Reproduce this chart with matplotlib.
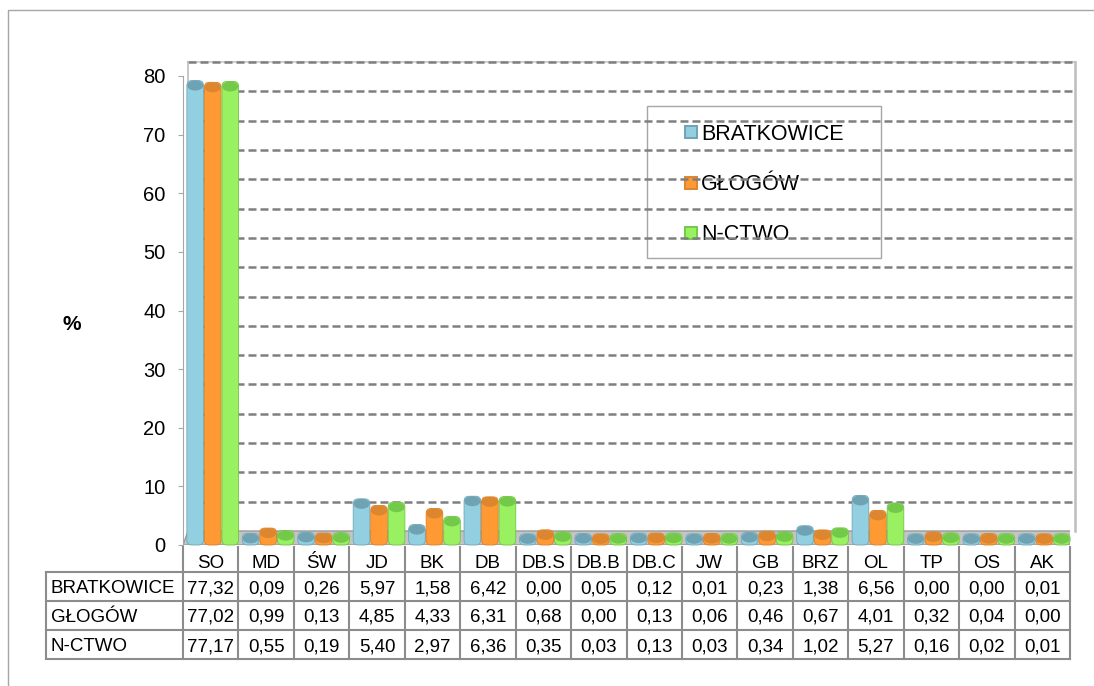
import numpy as np
import matplotlib
matplotlib.use("Agg")
import matplotlib.pyplot as plt
from matplotlib.patches import Rectangle, Ellipse, Polygon, FancyBboxPatch
from matplotlib.lines import Line2D
from matplotlib.transforms import ScaledTranslation, IdentityTransform, blended_transform_factory

plt.rcParams["font.family"] = ["Liberation Sans", "DejaVu Sans"]

# ── data ──────────────────────────────────────────────────────────────────────
categories = ["SO", "MD", "ŚW", "JD", "BK", "DB", "DB.S", "DB.B", "DB.C",
              "JW", "GB", "BRZ", "OL", "TP", "OS", "AK"]
bratkowice = [77.32, 0.09, 0.26, 5.97, 1.58, 6.42, 0.00, 0.05, 0.12,
              0.01, 0.23, 1.38, 6.56, 0.00, 0.00, 0.01]
glogow     = [77.02, 0.99, 0.13, 4.85, 4.33, 6.31, 0.68, 0.00, 0.13,
              0.06, 0.46, 0.67, 4.01, 0.32, 0.04, 0.00]
nctwo      = [77.17, 0.55, 0.19, 5.40, 2.97, 6.36, 0.35, 0.03, 0.13,
              0.03, 0.34, 1.02, 5.27, 0.16, 0.02, 0.01]
series_names = ["BRATKOWICE", "GŁOGÓW", "N-CTWO"]
y_ticks = [0, 10, 20, 30, 40, 50, 60, 70, 80]
grid_values = list(range(5, 85, 5))

# ── style ─────────────────────────────────────────────────────────────────────
body_col = ["#92CFE0", "#FF9933", "#99F060"]
cap_col  = ["#6FA3B3", "#DC862F", "#73C94A"]
edge_col = ["#73A6B5", "#D9822B", "#72C24A"]
LINE = "#8C8C8C"
LIFT = 1.9                      # 3D lift of the bar tops (data units)
W, STEP, SHIFT = 0.30, 0.316, 0.036

W_PX, H_PX = 1094, 686
fig = plt.figure(figsize=(W_PX / 100, H_PX / 100), dpi=100)

# background layer in pixel coords (frame, table, legend)
bg = fig.add_axes([0, 0, 1, 1])
bg.set_xlim(0, W_PX)
bg.set_ylim(H_PX, 0)
bg.axis("off")
bg.plot([8, 8, W_PX], [H_PX, 10, 10], color="#A6A6A6", lw=1)

# main plot axes
x0, x1, y0, y80 = 183, 1070, 545, 76
ax = fig.add_axes([x0 / W_PX, 1 - y0 / H_PX, (x1 - x0) / W_PX, (y0 - y80) / H_PX])
ax.patch.set_alpha(0)
ax.set_xlim(-0.5, len(categories) - 0.5)
ax.set_ylim(0, 80)
for s in ["top", "right", "bottom"]:
    ax.spines[s].set_visible(False)
ax.spines["left"].set_color("#A6A6A6")
ax.set_xticks([])
ax.set_yticks(y_ticks)
ax.tick_params(axis="y", length=3.6, width=0.8, color="#A6A6A6", pad=9, labelsize=14.5)

px_x = (x1 - x0) / len(categories)   # pixels per x unit
px_y = (y0 - y80) / 80               # pixels per y unit

# back wall = data shifted right/up
back = ax.transData + ScaledTranslation(0.05, 0.14, fig.dpi_scale_trans)
xl, xr = -0.5, len(categories) - 0.5
ax.plot([xl, xr], [80, 80], transform=back, color="#D0D0D0", lw=1.5, zorder=0.9, clip_on=False)
for g in grid_values:
    ax.plot([xl, xr], [g, g], transform=back, color="#7F7F7F", lw=1.8,
            ls=(0, (3.2, 1.6)), zorder=1, clip_on=False)
ax.plot([xr, xr], [0, 80], transform=back, color="#BDBDBD", lw=1.8, zorder=1.1, clip_on=False)
ax.plot([xl, xl], [0, 80], transform=back, color="#BDBDBD", lw=1.2, zorder=1.1, clip_on=False)

# side wall top edge and floor (display coords)
pf = ax.transData.transform((xl, 80))
pb = back.transform((xl, 80))
ax.add_line(Line2D([pf[0], pb[0]], [pf[1], pb[1]], color="#BDBDBD", lw=1.2,
                   transform=IdentityTransform(), zorder=1.1))
floor = [ax.transData.transform((xl, 0)), ax.transData.transform((xr, 0)),
         back.transform((xr, 0)), back.transform((xl, 0))]
ax.add_patch(Polygon(floor, closed=True, facecolor="#C4C4C4", edgecolor="#9A9A9A",
                     lw=1, transform=IdentityTransform(), zorder=2))

# cylinders: rounded body + darker top face
r_px = 5
xs = np.arange(len(categories))
for j, vals in enumerate([bratkowice, glogow, nctwo]):
    xpos = xs + SHIFT + (j - 1) * STEP
    tops = np.array(vals) + LIFT
    for xp, t in zip(xpos, tops):
        ax.add_patch(FancyBboxPatch(
            (xp - W / 2, 0), W, t,
            boxstyle=f"round,pad=0,rounding_size={r_px / px_x}",
            mutation_aspect=px_x / px_y,
            facecolor=body_col[j], edgecolor=edge_col[j], lw=0.6,
            zorder=3, clip_on=False))
        ax.add_patch(Ellipse((xp, t - r_px / px_y), W * 0.97, 2 * r_px / px_y,
                             facecolor=cap_col[j], edgecolor="none",
                             zorder=4, clip_on=False))

bg.text(72, 325, "%", fontsize=15, fontweight="bold", ha="center", va="center")

# legend
bg.add_patch(Rectangle((647, 106), 234, 152, fill=False, edgecolor="#A6A6A6", lw=1))
for j, name in enumerate(series_names):
    yc = 132 + 50.5 * j
    bg.add_patch(Rectangle((685, yc - 6), 12, 12, facecolor=body_col[j],
                           edgecolor=cap_col[j], lw=1.4))
    bg.text(701, yc + 7.5, name, fontsize=15.5, va="baseline", ha="left")

# data table
tb = blended_transform_factory(ax.transData, bg.transData)
rows_y = [572, 601, 630, 659]
for y in rows_y:
    bg.plot([46, x1], [y, y], color=LINE, lw=1.5)
bg.plot([46, 46], [rows_y[0], rows_y[-1]], color=LINE, lw=1.5)
for k in range(len(categories) + 1):
    ax.plot([k - 0.5, k - 0.5], [547, rows_y[-1]], transform=tb, color=LINE,
            lw=1.5, clip_on=False)
for i, c in enumerate(categories):
    ax.text(i, 567.5, c, transform=tb, fontsize=13.5, ha="center", va="baseline")
for r, (name, vals) in enumerate(zip(series_names, [bratkowice, glogow, nctwo])):
    yb = (rows_y[r] + rows_y[r + 1]) / 2 + 6.5
    bg.text(51, yb, name, fontsize=13.5, ha="left", va="baseline")
    for i, v in enumerate(vals):
        ax.text(i, yb, f"{v:.2f}".replace(".", ","), transform=tb, fontsize=13.5,
                ha="center", va="baseline")

fig.savefig("out.png", dpi=100)
